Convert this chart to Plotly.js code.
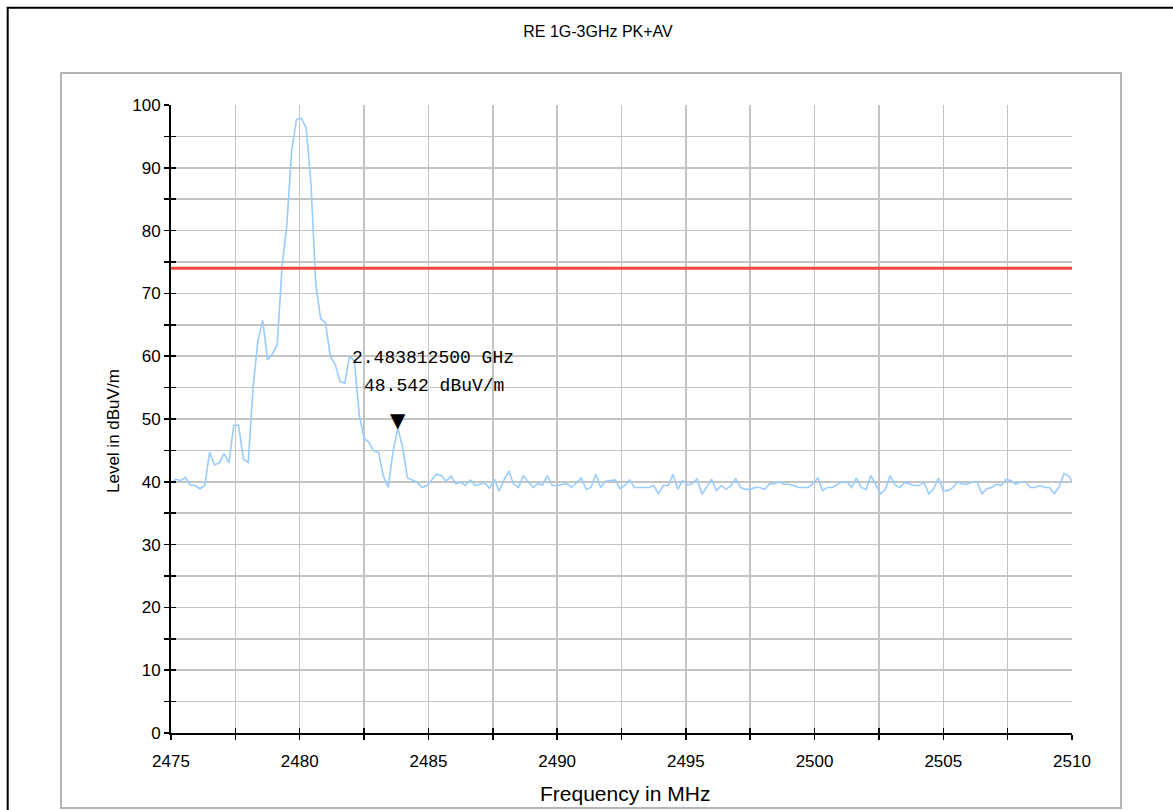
<!DOCTYPE html>
<html>
<head>
<meta charset="utf-8">
<script src="https://cdn.plot.ly/plotly-3.0.1.min.js"></script>
<style>html,body{margin:0;padding:0;background:#fff;}#chart{width:1173px;height:810px;}</style>
</head>
<body>
<div id="chart"></div>
<script>
// Sweep: start frequency and step (MHz)
var FREQ_START = 2475;
var FREQ_STEP = 0.1875;
// Measured level (dBuV/m), one value per sweep point
var LEVEL = [
 39.8,40.4,40.2,40.7,39.5,39.4,38.9,39.4,44.7,42.7,
 43.0,44.5,43.0,49.0,49.0,43.6,43.1,55.0,62.4,65.7,
 59.4,60.4,61.8,74.1,81.0,92.7,97.7,97.9,96.4,87.5,
 71.4,66.0,65.3,60.0,58.7,56.0,55.7,60.0,59.2,50.7,
 46.9,46.3,44.9,44.7,40.9,39.1,44.8,48.542,45.4,40.6,
 40.3,39.9,39.1,39.4,40.3,41.2,41.0,40.1,40.9,39.7,
 39.9,39.4,40.3,39.4,39.6,39.8,39.0,40.4,38.5,40.3,
 41.7,39.6,39.1,41.0,40.0,39.1,39.7,39.5,41.0,39.4,
 39.4,39.6,39.7,39.1,39.9,40.6,38.8,39.1,41.2,39.1,
 40.1,40.2,40.3,38.9,39.4,40.3,39.1,39.1,39.1,39.1,
 39.4,38.1,39.4,39.4,41.2,38.8,40.2,39.5,39.7,40.5,
 38.0,39.1,40.4,38.6,39.4,38.8,39.4,40.5,39.1,38.8,
 38.8,39.1,39.1,38.8,39.7,39.7,40.0,39.6,39.6,39.4,
 39.1,39.1,39.1,39.7,40.6,38.6,39.1,39.1,39.6,40.0,
 40.0,39.1,40.6,39.1,38.8,41.0,39.5,38.1,38.8,41.0,
 39.5,39.1,39.9,39.6,39.4,39.4,39.9,38.1,38.9,40.6,
 38.6,38.6,39.1,40.0,39.6,39.6,40.0,40.0,38.1,38.9,
 39.1,39.6,39.4,40.4,40.2,39.6,40.0,40.0,39.1,39.1,
 39.4,39.1,39.1,38.1,39.2,41.3,40.9,39.7
];
var FREQ = LEVEL.map(function(_, i){ return FREQ_START + i*FREQ_STEP; });

// Limit line
var LIMIT_LEVEL = 74;
var LIMIT_FREQ = [2475, 2510];

// Marker
var MARKER_FREQ = 2483.8125;
var MARKER_LEVEL = 48.542;
var MARKER_LABEL_1 = "2.483812500 GHz";
var MARKER_LABEL_2 = "48.542 dBuV/m";

// Text
var TITLE = "RE 1G-3GHz PK+AV";
var X_TITLE = "Frequency in MHz";
var Y_TITLE = "Level in dBuV/m";

var W = 1173, H = 810;
var L = 171, R = 1072, T = 105, B = 733;
function px(x){ return (x - L) / (R - L); }
function py(y){ return (B - y) / (B - T); }

var font = "Arial, 'Liberation Sans', sans-serif";

var traces = [
  {x: FREQ, y: LEVEL, type: 'scatter', mode: 'lines',
   line: {color: 'rgb(153,204,255)', width: 1.6}, hoverinfo: 'skip', showlegend: false},
  {x: LIMIT_FREQ, y: [LIMIT_LEVEL, LIMIT_LEVEL], type: 'scatter', mode: 'lines',
   line: {color: 'rgb(255,68,68)', width: 3}, hoverinfo: 'skip', showlegend: false},
  // invisible trace to activate overlay axes (inside tick halves)
  {x: LIMIT_FREQ, y: [0, 0], xaxis: 'x2', yaxis: 'y2', type: 'scatter', mode: 'lines',
   line: {width: 0}, opacity: 0, hoverinfo: 'skip', showlegend: false}
];

var axCommon = {
  showline: true, linecolor: '#000', linewidth: 2,
  ticks: 'outside', ticklen: 5, tickwidth: 1.5, tickcolor: '#000',
  showgrid: true, gridcolor: '#c4c4c4', gridwidth: 1.5,
  zeroline: false, tickfont: {family: font, size: 17, color: '#000'}
};

var layout = {
  width: W, height: H,
  margin: {l: L, r: W - R, t: T, b: H - B, pad: 0},
  paper_bgcolor: '#fff', plot_bgcolor: '#fff',
  showlegend: false,
  title: {text: TITLE, x: px(598), xref: 'paper', xanchor: 'center', y: 1 - 31/H, yanchor: 'middle',
          font: {family: font, size: 16, color: '#000'}},
  xaxis: Object.assign({}, axCommon, {
    range: [2475, 2510], dtick: 5, tick0: 2475, ticklabelstandoff: 7,
    minor: {dtick: 2.5, tick0: 2475, showgrid: true, gridcolor: '#c4c4c4', gridwidth: 1.5,
            ticks: 'outside', ticklen: 5, tickwidth: 1.5, tickcolor: '#000'}
  }),
  yaxis: Object.assign({}, axCommon, {
    range: [0, 100], dtick: 10, tick0: 0,
    minor: {dtick: 5, tick0: 0, showgrid: true, gridcolor: '#c4c4c4', gridwidth: 1.5,
            ticks: 'outside', ticklen: 5, tickwidth: 1.5, tickcolor: '#000'}
  }),
  xaxis2: {overlaying: 'x', anchor: 'y2', side: 'bottom', range: [2475, 2510], dtick: 5, tick0: 2475,
    showgrid: false, zeroline: false, showline: false, showticklabels: false,
    ticks: 'inside', ticklen: 5, tickwidth: 1.5, tickcolor: '#000',
    minor: {dtick: 2.5, tick0: 2475, ticks: 'inside', ticklen: 5, tickwidth: 1.5, tickcolor: '#000', showgrid: false}},
  yaxis2: {overlaying: 'y', anchor: 'x2', side: 'left', range: [0, 100], dtick: 10, tick0: 0,
    showgrid: false, zeroline: false, showline: false, showticklabels: false,
    ticks: 'inside', ticklen: 5, tickwidth: 1.5, tickcolor: '#000',
    minor: {dtick: 5, tick0: 0, ticks: 'inside', ticklen: 5, tickwidth: 1.5, tickcolor: '#000', showgrid: false}},
  shapes: [
    {type: 'rect', xref: 'paper', yref: 'paper', x0: px(61), x1: px(1121), y0: py(808), y1: py(73),
     line: {color: '#b4b4b4', width: 2}, fillcolor: 'rgba(0,0,0,0)', layer: 'below'},
    {type: 'rect', xref: 'paper', yref: 'paper', x0: px(7.7), x1: px(1200), y0: py(840), y1: py(7.8),
     line: {color: '#000', width: 2}, fillcolor: 'rgba(0,0,0,0)', layer: 'below'}
  ],
  annotations: [
    {x: px(625), y: py(793), xref: 'paper', yref: 'paper', text: X_TITLE, showarrow: false,
     xanchor: 'center', yanchor: 'middle', font: {family: font, size: 21, color: '#000'}},
    {x: px(113), y: py(431), xref: 'paper', yref: 'paper', text: Y_TITLE, showarrow: false, textangle: -90,
     xanchor: 'center', yanchor: 'middle', font: {family: font, size: 17, color: '#000'}},
    {x: MARKER_FREQ, y: MARKER_LEVEL, xref: 'x', yref: 'y', text: '\u25BC', showarrow: false,
     xanchor: 'center', yanchor: 'bottom', yshift: -6, font: {family: 'DejaVu Sans', size: 20, color: '#000'}},
    {x: px(350), y: py(358), xref: 'paper', yref: 'paper', text: MARKER_LABEL_1, showarrow: false,
     xanchor: 'left', yanchor: 'middle', font: {family: "'Liberation Mono', monospace", size: 18, color: '#000'}},
    {x: px(362), y: py(386), xref: 'paper', yref: 'paper', text: MARKER_LABEL_2, showarrow: false,
     xanchor: 'left', yanchor: 'middle', font: {family: "'Liberation Mono', monospace", size: 18, color: '#000'}}
  ]
};

Plotly.newPlot('chart', traces, layout, {displayModeBar: false, staticPlot: true});
</script>
</body>
</html>
